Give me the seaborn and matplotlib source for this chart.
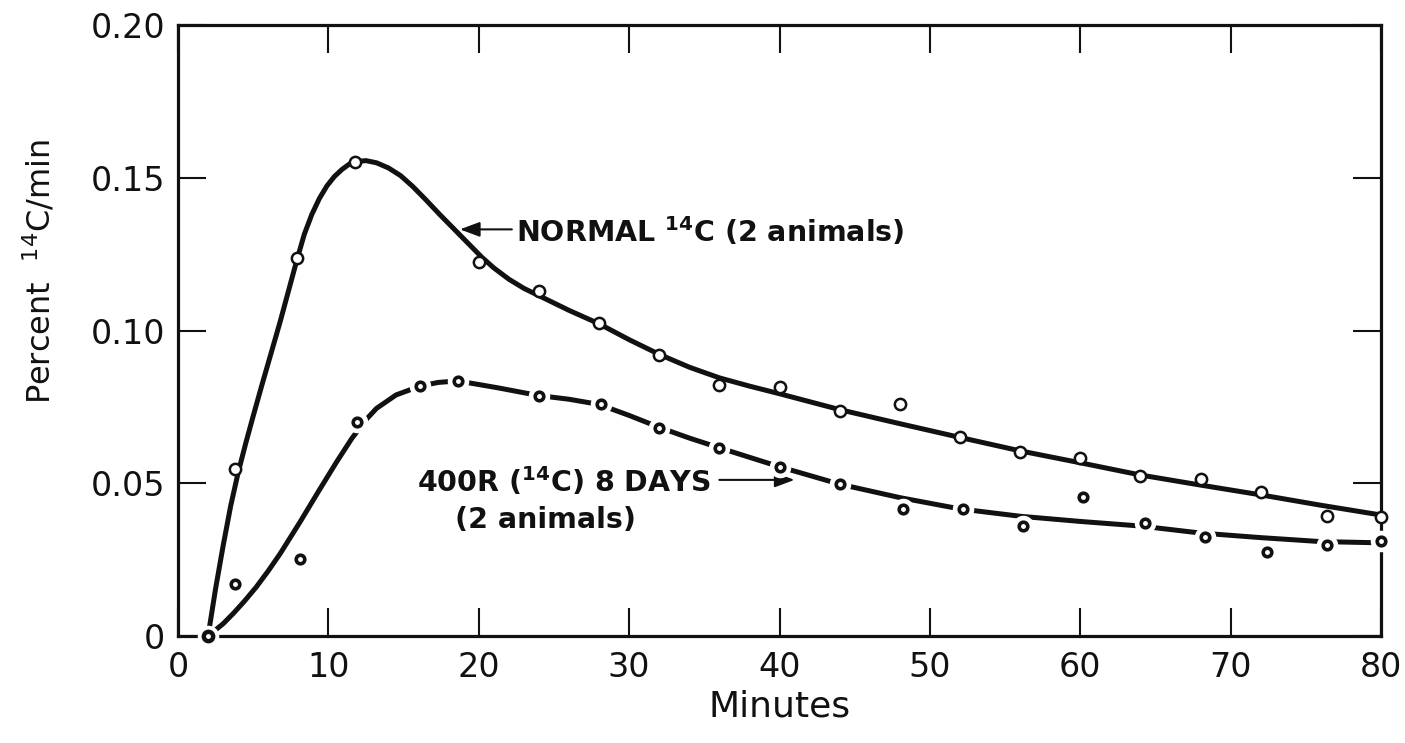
import matplotlib
matplotlib.use("Agg")
import matplotlib.pyplot as plt
import numpy as np
import pandas as pd
import seaborn as sns

# Measured points, normal animals
minutes_normal = [2, 3.8, 7.9, 11.8, 20, 24, 28, 32, 36, 40, 44, 48, 52, 56, 60, 64, 68, 72, 76.4, 80]
rate_normal = [0.000, 0.0546, 0.1236, 0.1553, 0.1223, 0.1129, 0.1026, 0.0920, 0.0822, 0.0814,
               0.0736, 0.0759, 0.0650, 0.0603, 0.0582, 0.0525, 0.0513, 0.0472, 0.0393, 0.0390]

# Measured points, 400R animals after 8 days
minutes_400r = [2, 3.8, 8.1, 11.9, 16.1, 18.6, 24, 28.1, 32, 36, 40, 44, 48.2, 52.2, 56.2, 60.2,
                64.3, 68.3, 72.4, 76.4, 80]
rate_400r = [0.000, 0.0170, 0.0251, 0.0700, 0.0818, 0.0835, 0.0787, 0.0760, 0.0680, 0.0616, 0.0554,
             0.0497, 0.0415, 0.0415, 0.0361, 0.0456, 0.0369, 0.0323, 0.0274, 0.0298, 0.0312]

# Hand-fitted curve through the normal points
curve_normal_x = [2, 2.5, 3.0, 3.5, 4.0, 4.5, 5.0, 5.6, 6.8, 7.9, 8.4, 8.9, 9.4, 9.9, 10.4, 10.9,
                  11.4, 11.8, 12.5, 13.2, 14.0, 14.8, 15.6, 16.5, 17.4, 18.1, 18.8, 19.5, 20.2,
                  21, 22, 23, 24, 26, 28, 30, 32, 34, 36, 38, 40, 44, 48, 52, 56, 60, 64, 68, 72,
                  76, 80]
curve_normal_y = [0.0, 0.0155, 0.0295, 0.0425, 0.0535, 0.0630, 0.0720, 0.0825, 0.1030, 0.1230,
                  0.1315, 0.1380, 0.1432, 0.1473, 0.1504, 0.1527, 0.1545, 0.1553, 0.1556, 0.1549,
                  0.1532, 0.1507, 0.1472, 0.1427, 0.1380, 0.1345, 0.1310, 0.1275, 0.1240,
                  0.1205, 0.1168, 0.1138, 0.1114, 0.1066, 0.1022, 0.0970, 0.0922, 0.0880, 0.0845,
                  0.0818, 0.0793, 0.0741, 0.0695, 0.0650, 0.0606, 0.0567, 0.0527, 0.0494, 0.0462,
                  0.0428, 0.0396]

# Hand-fitted curve through the 400R points
curve_400r_x = [2, 3.0, 3.7, 4.4, 5.2, 6.0, 6.8, 8.1, 9.4, 10.55, 11.55, 12.5, 13.2, 14.5, 16.1,
                17.3, 18.6, 21.2, 24, 26, 28, 30, 32, 34, 36, 40, 44, 48, 52, 56, 60, 64, 68, 72,
                76, 80]
curve_400r_y = [0.0, 0.0040, 0.0075, 0.0113, 0.0160, 0.0213, 0.0270, 0.0372, 0.0478, 0.0570,
                0.0646, 0.0708, 0.0745, 0.0789, 0.0818, 0.0830, 0.0835, 0.0813, 0.0787, 0.0775,
                0.0758, 0.0722, 0.0683, 0.0648, 0.0616, 0.0554, 0.0497, 0.0453, 0.0416, 0.0392,
                0.0375, 0.0360, 0.0337, 0.0322, 0.0309, 0.0305]

x_ticks = [0, 10, 20, 30, 40, 50, 60, 70, 80]
y_ticks = [0, 0.05, 0.10, 0.15, 0.20]
y_tick_labels = ["0", "0.05", "0.10", "0.15", "0.20"]

sns.set_style("ticks")
plt.rcParams["font.family"] = ["DejaVu Sans"]
plt.rcParams["mathtext.default"] = "regular"

fig = plt.figure(figsize=(14.05, 7.43), dpi=100)
ax = fig.add_axes([178 / 1405, 1 - 636 / 743, (1381 - 178) / 1405, (636 - 25) / 743])

ink = "#111111"

# fitted curves
sns.lineplot(x=curve_normal_x, y=curve_normal_y, ax=ax, color=ink, lw=3.6, sort=False,
             estimator=None, solid_joinstyle="round", solid_capstyle="round", zorder=3)
sns.lineplot(x=curve_400r_x, y=curve_400r_y, ax=ax, color=ink, lw=3.6, sort=False,
             estimator=None, solid_joinstyle="round", solid_capstyle="butt", zorder=3)

# white halo around the 400R points breaks the curve at each point
sns.scatterplot(x=minutes_400r, y=rate_400r, ax=ax, s=240, color="white", linewidth=0,
                zorder=4, clip_on=False, legend=False)
sns.scatterplot(x=minutes_normal, y=rate_normal, ax=ax, s=66, facecolor="white", edgecolor=ink,
                linewidth=1.8, zorder=5, clip_on=False, legend=False)
sns.scatterplot(x=minutes_400r, y=rate_400r, ax=ax, s=38, facecolor="white", edgecolor=ink,
                linewidth=2.6, zorder=5, clip_on=False, legend=False)

ax.set_xlim(0, 80)
ax.set_ylim(0, 0.20)
ax.set_xticks(x_ticks)
ax.set_xticklabels([str(t) for t in x_ticks])
ax.set_yticks(y_ticks)
ax.set_yticklabels(y_tick_labels)

for side in ["top", "right", "bottom", "left"]:
    ax.spines[side].set_visible(True)
    ax.spines[side].set_linewidth(2.3)
    ax.spines[side].set_color(ink)
    ax.spines[side].set_zorder(2)

ax.tick_params(axis="both", which="major", direction="in", length=20, width=1.5, color=ink,
               top=True, right=True, labelsize=24, labelcolor=ink)
ax.tick_params(axis="x", pad=11)
ax.tick_params(axis="y", pad=9)

ax.set_xlabel("Minutes", fontsize=26, color=ink)
ax.xaxis.set_label_coords(0.5, -0.088)
ax.set_ylabel("Percent  $^{14}$C/min", fontsize=23, color=ink)
ax.yaxis.set_label_coords(-0.100, 0.596)

arrow_style = dict(arrowstyle="-|>,head_length=0.75,head_width=0.28", lw=1.5, color=ink,
                   mutation_scale=16, shrinkA=0, shrinkB=0)

# curve labels with arrows
ax.text(22.47, 0.129, "NORMAL $^{14}$C (2 animals)", fontsize=20.5, fontweight="bold",
        color=ink, ha="left", va="baseline")
ax.annotate("", xy=(18.75, 0.1331), xytext=(22.2, 0.1331), arrowprops=arrow_style)

ax.text(15.9, 0.0471, "400R ($^{14}$C) 8 DAYS", fontsize=20.5, fontweight="bold",
        color=ink, ha="left", va="baseline")
ax.text(18.4, 0.0354, "(2 animals)", fontsize=20.5, fontweight="bold",
        color=ink, ha="left", va="baseline")
ax.annotate("", xy=(41.0, 0.0511), xytext=(36.0, 0.0511), arrowprops=arrow_style)

fig.savefig("out.png", dpi=100, facecolor="white")
